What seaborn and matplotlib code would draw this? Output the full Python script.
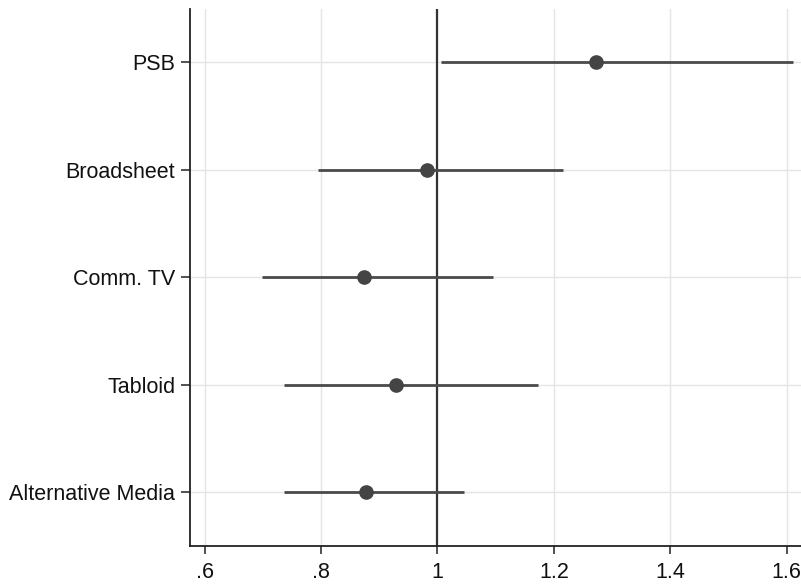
import numpy as np
import pandas as pd
import matplotlib
matplotlib.use("Agg")
import matplotlib.pyplot as plt
import seaborn as sns

categories = ["PSB", "Broadsheet", "Comm. TV", "Tabloid", "Alternative Media"]
estimate = [1.272, 0.982, 0.874, 0.929, 0.877]
ci_low = [1.006, 0.795, 0.699, 0.736, 0.737]
ci_high = [1.610, 1.215, 1.095, 1.173, 1.045]
xticks = [0.6, 0.8, 1.0, 1.2, 1.4, 1.6]
xtick_labels = [".6", ".8", "1", "1.2", "1.4", "1.6"]

sns.set_theme(style="white")
plt.rcParams["font.family"] = ["Liberation Sans", "DejaVu Sans"]

df = pd.DataFrame({"category": categories, "estimate": estimate,
                   "low": ci_low, "high": ci_high})

fig = plt.figure(figsize=(8.01, 5.86), dpi=100)
ax = fig.add_axes([0.2372, 0.0683, 0.7628, 0.9157])

pos = np.arange(len(categories))
ax.axvline(1.0, color="#333333", linewidth=1.6, zorder=2)
ax.hlines(pos, df["low"], df["high"], color="#4a4a4a", linewidth=2.0, zorder=3)
sns.pointplot(data=df, x="estimate", y="category", orient="h",
              linestyle="none", color="#444444", markers="o",
              markersize=8.5, errorbar=None, ax=ax, zorder=4)

ax.set_xlim(0.575, 1.6246)
ax.set_ylim(4.5, -0.49)
ax.set_xticks(xticks)
ax.set_xticklabels(xtick_labels)
ax.set_yticks(pos)
ax.set_yticklabels(categories)
ax.set_xlabel("")
ax.set_ylabel("")

# gridlines (after pointplot so they are not switched off)
ax.set_axisbelow(True)
ax.grid(True, axis="both", color="#e5e5e5", linewidth=1.0)

for s in ["top", "right"]:
    ax.spines[s].set_visible(False)
for s in ["left", "bottom"]:
    ax.spines[s].set_color("#222222")
    ax.spines[s].set_linewidth(1.3)

ax.tick_params(axis="x", which="major", direction="out", length=5.8, width=1.1,
               color="#222222", labelcolor="#111111", labelsize=15.5, pad=5.5,
               bottom=True)
ax.tick_params(axis="y", which="major", direction="out", length=6.3, width=1.1,
               color="#222222", labelcolor="#111111", labelsize=15.5, pad=4.3,
               left=True)

fig.savefig("out.png", dpi=100)
